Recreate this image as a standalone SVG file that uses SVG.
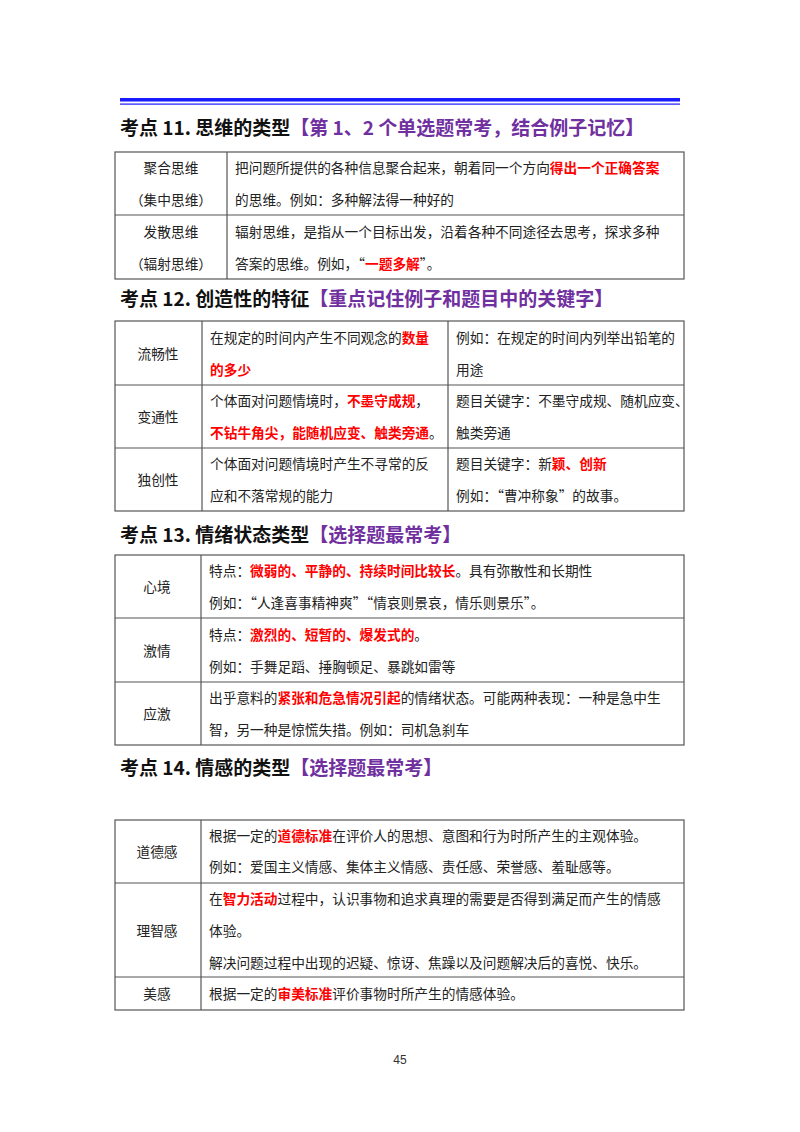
<svg xmlns="http://www.w3.org/2000/svg" width="800" height="1132" viewBox="0 0 800 1132">
<style>
text{font-family:"Noto Sans CJK SC","Noto Sans",sans-serif;}
.h{font-size:19px;font-weight:bold;fill:#111;}
.p{fill:#7030A0;}
.t{font-size:13.7px;fill:#222;}
.c{text-anchor:middle;}
.r{fill:#FF0000;font-weight:bold;}
.b{fill:none;stroke:#555;stroke-width:1.2;}
</style>
<rect width="800" height="1132" fill="#fff"/>
<g id="topline">
<rect x="120" y="98" width="560" height="3.5" fill="#1a1aff"/>
<rect x="120" y="103.5" width="560" height="1.2" fill="#1a1aff"/>
</g>
<g id="sec11">
<text class="h" x="120" y="135">考点 11. 思维的类型<tspan class="p">【第 1、2 个单选题常考，结合例子记忆】</tspan></text>
<rect class="b" x="115" y="152" width="569" height="127"/>
<line class="b" x1="227" y1="152" x2="227" y2="279"/>
<line class="b" x1="115" y1="215" x2="684" y2="215"/>
<text class="t c" x="171" y="173">聚合思维</text>
<text class="t c" x="171" y="205">（集中思维）</text>
<text class="t" x="235" y="173">把问题所提供的各种信息聚合起来，朝着同一个方向<tspan class="r">得出一个正确答案</tspan></text>
<text class="t" x="235" y="205">的思维。例如：多种解法得一种好的</text>
<text class="t c" x="171" y="237">发散思维</text>
<text class="t c" x="171" y="269">（辐射思维）</text>
<text class="t" x="235" y="237">辐射思维，是指从一个目标出发，沿着各种不同途径去思考，探求多种</text>
<text class="t" x="235" y="269">答案的思维。例如，“<tspan class="r">一题多解</tspan>”。</text>
</g>
<g id="sec12">
<text class="h" x="120" y="306">考点 12. 创造性的特征<tspan class="p">【重点记住例子和题目中的关键字】</tspan></text>
<rect class="b" x="115" y="321" width="569" height="190"/>
<line class="b" x1="202" y1="321" x2="202" y2="511"/>
<line class="b" x1="448" y1="321" x2="448" y2="511"/>
<line class="b" x1="115" y1="385" x2="684" y2="385"/>
<line class="b" x1="115" y1="448" x2="684" y2="448"/>
<text class="t c" x="158" y="359">流畅性</text>
<text class="t" x="210" y="343">在规定的时间内产生不同观念的<tspan class="r">数量</tspan></text>
<text class="t" x="210" y="375"><tspan class="r">的多少</tspan></text>
<text class="t" x="456" y="343">例如：在规定的时间内列举出铅笔的</text>
<text class="t" x="456" y="375">用途</text>
<text class="t c" x="158" y="422">变通性</text>
<text class="t" x="210" y="406">个体面对问题情境时，<tspan class="r">不墨守成规</tspan>，</text>
<text class="t" x="210" y="438"><tspan class="r">不钻牛角尖，能随机应变、触类旁通</tspan>。</text>
<text class="t" x="456" y="406">题目关键字：不墨守成规、随机应变、</text>
<text class="t" x="456" y="438">触类旁通</text>
<text class="t c" x="158" y="485">独创性</text>
<text class="t" x="210" y="469">个体面对问题情境时产生不寻常的反</text>
<text class="t" x="210" y="501">应和不落常规的能力</text>
<text class="t" x="456" y="469">题目关键字：新<tspan class="r">颖、创新</tspan></text>
<text class="t" x="456" y="501">例如：“曹冲称象”的故事。</text>
</g>
<g id="sec13">
<text class="h" x="120" y="542">考点 13. 情绪状态类型<tspan class="p">【选择题最常考】</tspan></text>
<rect class="b" x="115" y="555" width="569" height="190"/>
<line class="b" x1="201" y1="555" x2="201" y2="745"/>
<line class="b" x1="115" y1="618" x2="684" y2="618"/>
<line class="b" x1="115" y1="682" x2="684" y2="682"/>
<text class="t c" x="157" y="592">心境</text>
<text class="t" x="209" y="576">特点：<tspan class="r">微弱的、平静的、持续时间比较长</tspan>。具有弥散性和长期性</text>
<text class="t" x="209" y="608">例如：“人逢喜事精神爽”“情哀则景哀，情乐则景乐”。</text>
<text class="t c" x="157" y="656">激情</text>
<text class="t" x="209" y="640">特点：<tspan class="r">激烈的、短暂的、爆发式的</tspan>。</text>
<text class="t" x="209" y="672">例如：手舞足蹈、捶胸顿足、暴跳如雷等</text>
<text class="t c" x="157" y="719">应激</text>
<text class="t" x="209" y="703">出乎意料的<tspan class="r">紧张和危急情况引起</tspan>的情绪状态。可能两种表现：一种是急中生</text>
<text class="t" x="209" y="735">智，另一种是惊慌失措。例如：司机急刹车</text>
</g>
<g id="sec14">
<text class="h" x="120" y="775">考点 14. 情感的类型<tspan class="p">【选择题最常考】</tspan></text>
<rect class="b" x="115" y="820" width="569" height="190"/>
<line class="b" x1="201" y1="820" x2="201" y2="1010"/>
<line class="b" x1="115" y1="883" x2="684" y2="883"/>
<line class="b" x1="115" y1="977" x2="684" y2="977"/>
<text class="t c" x="157" y="857">道德感</text>
<text class="t" x="209" y="841">根据一定的<tspan class="r">道德标准</tspan>在评价人的思想、意图和行为时所产生的主观体验。</text>
<text class="t" x="209" y="872">例如：爱国主义情感、集体主义情感、责任感、荣誉感、羞耻感等。</text>
<text class="t c" x="157" y="936">理智感</text>
<text class="t" x="209" y="904">在<tspan class="r">智力活动</tspan>过程中，认识事物和追求真理的需要是否得到满足而产生的情感</text>
<text class="t" x="209" y="936">体验。</text>
<text class="t" x="209" y="968">解决问题过程中出现的迟疑、惊讶、焦躁以及问题解决后的喜悦、快乐。</text>
<text class="t c" x="157" y="999">美感</text>
<text class="t" x="209" y="999">根据一定的<tspan class="r">审美标准</tspan>评价事物时所产生的情感体验。</text>
</g>
<text x="400" y="1064" text-anchor="middle" style="font-family:'Liberation Sans',sans-serif;font-size:12px;fill:#333">45</text>
</svg>
